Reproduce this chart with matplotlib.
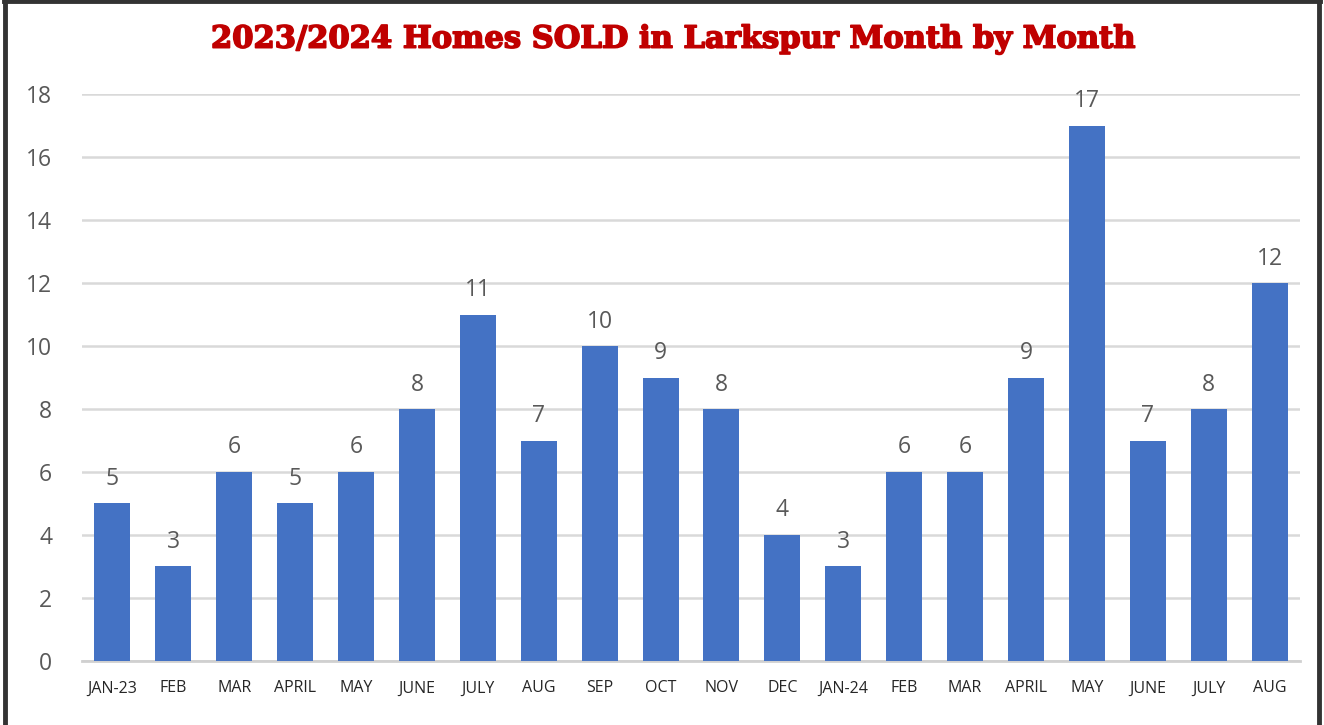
import matplotlib.pyplot as plt
import matplotlib.patheffects as pe
from matplotlib.lines import Line2D

# data
months = ['JAN-23', 'FEB', 'MAR', 'APRIL', 'MAY', 'JUNE', 'JULY', 'AUG', 'SEP', 'OCT',
          'NOV', 'DEC', 'JAN-24', 'FEB', 'MAR', 'APRIL', 'MAY', 'JUNE', 'JULY', 'AUG']
homes_sold = [5, 3, 6, 5, 6, 8, 11, 7, 10, 9, 8, 4, 3, 6, 6, 9, 17, 7, 8, 12]
y_ticks = [0, 2, 4, 6, 8, 10, 12, 14, 16, 18]
title = '2023/2024 Homes SOLD in Larkspur Month by Month'

bar_color = '#4472C4'
text_gray = '#595959'

fig = plt.figure(figsize=(13.24, 7.25), dpi=100)
ax = fig.add_axes([0.0619, 0.0883, 0.9200, 0.7820])

x = range(len(months))
bars = ax.bar(x, homes_sold, width=0.59, color=bar_color, zorder=3)
ax.bar_label(bars, labels=[str(v) for v in homes_sold], padding=9,
             fontsize=16.5, color=text_gray, family='Open Sans')

ax.set_xlim(-0.5, len(months) - 0.5)
ax.set_ylim(0, 18)
ax.set_yticks(y_ticks)
ax.set_xticks(list(x))
ax.set_xticklabels(months, fontsize=11.5, color='#262626', family='Open Sans')
ax.set_yticklabels([str(t) for t in y_ticks], fontsize=16.5, color=text_gray, family='Open Sans')
ax.tick_params(axis='both', length=0)
ax.tick_params(axis='x', pad=14)
ax.tick_params(axis='y', pad=21.5)

ax.grid(axis='y', color='#D9D9D9', linewidth=1.8, zorder=0)
for side in ['top', 'right', 'left']:
    ax.spines[side].set_visible(False)
ax.spines['bottom'].set_color('#D0D0D0')
ax.spines['bottom'].set_linewidth(2)

fig.text(0.508, 0.946, title, ha='center', va='center', fontsize=22,
         fontweight='bold', color='#C00000', family='DejaVu Serif',
         path_effects=[pe.withStroke(linewidth=1.2, foreground='#C00000')])

# dark frame on top, left and right like the pasted chart
frame = dict(color='#333333', linewidth=3.5, transform=fig.transFigure)
fig.add_artist(Line2D([0.003, 0.997], [0.998, 0.998], **frame))
fig.add_artist(Line2D([0.0035, 0.0035], [0.0, 0.998], **frame))
fig.add_artist(Line2D([0.9965, 0.9965], [0.0, 0.998], **frame))

fig.savefig('out.png', dpi=100)
